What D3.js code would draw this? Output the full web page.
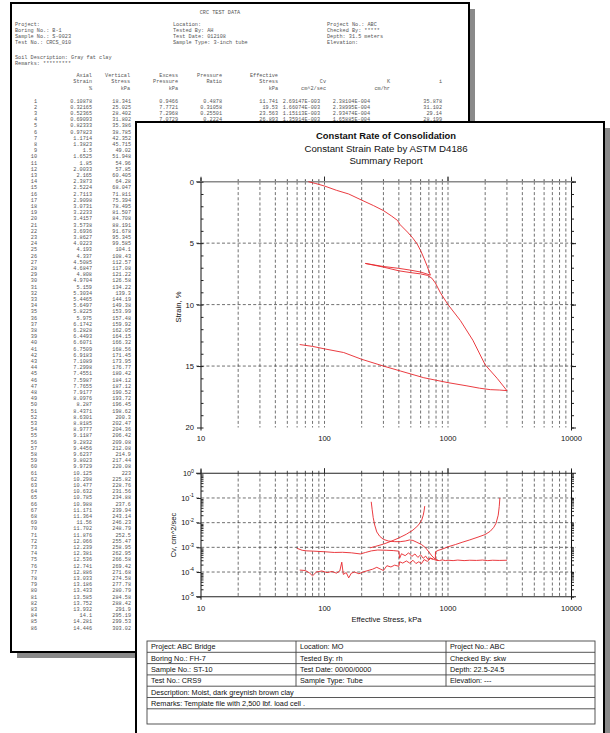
<!DOCTYPE html>
<html><head><meta charset="utf-8">
<script src="https://cdn.jsdelivr.net/npm/d3@7/dist/d3.min.js"></script>
<style>body{margin:0;background:#fff}svg{display:block}</style>
</head><body>
<svg id="c" width="610" height="733"></svg>
<script>
// ---------- back page (CRC TEST DATA) ----------
const axialStrain = ["0.10878","0.32165","0.52365","0.69093","0.82333","0.97823","1.1714","1.3823","1.5","1.6525",
"1.85","2.0033","2.165","2.3873","2.5224","2.7113","2.9098","3.0731","3.2233","3.4157",
"3.5738","3.6936","3.8627","4.0223","4.193","4.337","4.5085","4.6847","4.808","4.9704",
"5.159","5.3034","5.4465","5.6497","5.8225","5.975","6.1742","6.2828","6.4493","6.6071",
"6.7509","6.9183","7.1089","7.2998","7.4551","7.5987","7.7655","7.9177","8.0976","8.287",
"8.4371","8.6301","8.8185","8.9777","9.1187","9.2832","9.4456","9.6237","9.8023","9.9729",
"10.125","10.298","10.477","10.632","10.785","10.988","11.171","11.364","11.56","11.702",
"11.876","12.066","12.239","12.381","12.536","12.741","12.886","13.033","13.186","13.433",
"13.585","13.752","13.932","14.1","14.281","14.446"];
const verticalStress = ["18.341","25.025","28.402","31.802","35.386","38.785","42.352","45.715","49.02","51.948",
"54.96","57.85","60.405","64.28","68.047","71.811","75.394","78.495","81.507","84.708",
"88.191","91.678","95.345","99.585","104.1","108.43","112.57","117.08","121.22","126.58",
"134.22","139.3","144.19","149.38","153.99","157.48","159.92","162.05","164.15","166.32",
"168.56","171.45","173.95","176.77","180.42","184.12","187.12","190.52","193.72","196.45",
"198.62","200.3","202.47","204.36","206.42","209.08","212.08","214.9","217.44","220.08",
"223","225.82","228.76","231.56","234.88","237.6","239.94","243.14","246.23","248.79",
"252.5","255.47","258.95","262.95","266.58","269.42","271.68","274.58","277.78","280.79",
"284.58","288.42","291.9","295.19","299.53","303.02"];
const excessPressure = ["0.9466","7.7721","7.2968","7.0729"];
const pressureRatio = ["0.4878","0.31058","0.25501","0.2224"];
const effectiveStress = ["11.741","19.53","23.563","26.893"];
const cvValues = ["2.69147E-003","1.66074E-003","1.15113E-003","1.35914E-003"];
const kValues = ["2.38104E-004","2.38995E-004","2.93474E-004","1.65885E-004"];
const iValues = ["35.878","31.102","29.14","28.199"];
const backHeaderLeft = ["Project:","Boring No.: B-1","Sample No.: S-0023","Test No.: CRCS_010"];
const backHeaderMid = ["Location:","Tested By: AH","Test Date: 012108","Sample Type: 3-inch tube"];
const backHeaderRight = ["Project No.: ABC","Checked By: *****","Depth: 31.5 meters","Elevation:"];

// ---------- front page (summary report) ----------
const titleLines = ["Constant Rate of Consolidation","Constant Strain Rate by ASTM D4186","Summary Report"];
const stressTicks = [10,100,1000,10000];
const strainTicks = [0,5,10,15,20];
const cvTicks = [1,0.1,0.01,0.001,0.0001,0.00001];
const cvTickExp = ["0","-1","-2","-3","-4","-5"];
// [effective stress kPa, strain %]
const strainLoad1 = [[74,0],[85,0.15],[100,0.35],[125,0.7],[157,1.0],[200,1.5],[250,1.95],[300,2.35],[350,2.8],[390,3.15],[410,3.5],[470,4.1],[520,4.6],[561,5.05],[600,5.6],[640,6.25],[680,6.9],[720,7.6]];
const strainUnload1 = [[720,7.6],[600,7.35],[500,7.2],[400,7.05],[300,6.9],[214,6.65]];
const strainReload1 = [[214,6.65],[300,6.95],[400,7.25],[500,7.4],[600,7.5],[680,7.62],[740,7.85],[791,8.25],[869,9.05],[1000,10.0],[1260,11.3],[1590,12.9],[2000,14.9],[2500,16.0],[3000,17.0]];
const strainUnload2 = [[3000,17.0],[2600,16.95],[2200,16.92],[1800,16.8],[1400,16.6],[1000,16.35],[637,15.95],[411,15.4],[300,15.0],[200,14.45],[143,13.9],[100,13.6],[80,13.4],[63,13.25]];
// [effective stress kPa, Cv cm^2/sec]
const cvUpper = [[60,9.1e-4],[66,7.6e-4],[72,7.2e-4],[82,7.0e-4],[101,6.6e-4],[120,6.2e-4],[140,6.3e-4],[165,6.0e-4],[195,5.4e-4],[215,6.2e-4],[240,7.2e-4],[270,7.8e-4],[320,7.6e-4],[360,7.4e-4],[400,7.0e-4],[406,3.6e-4],[420,5.5e-4],[450,4.6e-4],[480,6.0e-4],[510,4.3e-4],[540,5.4e-4],[570,3.9e-4],[600,5.0e-4],[630,3.6e-4],[660,4.4e-4],[690,3.2e-4],[720,3.7e-4],[760,3.3e-4]];
const cvLower = [[63,1.2e-4],[70,1.15e-4],[76,9e-5],[80,7e-5],[86,1.0e-4],[95,1.1e-4],[105,9.5e-5],[115,1.05e-4],[125,9e-5],[133,1.1e-4],[138,2.5e-4],[142,8e-5],[150,9.5e-5],[157,5.8e-5],[165,9e-5],[175,1.0e-4],[190,8.5e-5],[205,1.0e-4],[225,1.15e-4],[245,1.3e-4],[265,1.55e-4],[285,1.3e-4],[300,1.15e-4],[320,1.8e-4],[345,1.6e-4],[370,1.9e-4],[400,1.7e-4],[406,2.6e-4],[430,2.3e-4],[460,2.8e-4],[490,2.3e-4],[520,3.0e-4],[550,2.2e-4],[580,2.6e-4],[610,2.2e-4],[640,3.2e-4],[680,2.7e-4],[720,3.5e-4],[760,3.3e-4]];
const cvTail = [[760,3.3e-4],[800,3.0e-4],[850,2.9e-4],[900,3.1e-4],[950,2.9e-4],[1000,3.0e-4],[1100,2.9e-4],[1200,3.05e-4],[1350,2.9e-4],[1500,3.0e-4],[1700,2.95e-4],[1900,3.05e-4],[2100,2.9e-4],[2300,3.0e-4],[2600,2.95e-4],[3000,3.0e-4]];
const cvUnloadA = [[239,0.07],[243,0.035],[248,0.016],[255,8e-3],[265,4.2e-3],[280,2.8e-3],[300,2.1e-3],[330,1.8e-3],[370,1.7e-3],[410,1.7e-3],[450,1.8e-3],[490,2.0e-3],[520,1.9e-3],[560,1.6e-3],[610,1.3e-3],[660,9.5e-4],[700,6.5e-4],[740,4.5e-4],[790,3.3e-4],[830,3.0e-4]];
const cvReload = [[233,9.5e-4],[260,1.1e-3],[300,1.35e-3],[350,1.8e-3],[400,2.4e-3],[460,3.4e-3],[520,5e-3],[570,7.5e-3],[610,0.012],[630,0.02],[640,0.03],[648,0.047]];
const cvUnloadB = [[790,3.4e-4],[792,6.6e-4],[830,7.5e-4],[900,8.5e-4],[1000,1.05e-3],[1150,1.3e-3],[1300,1.6e-3],[1500,2.0e-3],[1750,2.6e-3],[2000,3.3e-3],[2200,4.5e-3],[2350,6.5e-3],[2450,9.5e-3],[2550,0.02],[2600,0.045],[2630,0.1]];

const infoRows = [
  ["Project: ABC Bridge","Location: MO","Project No.: ABC"],
  ["Boring No.: FH-7","Tested By: rh","Checked By: skw"],
  ["Sample No.: ST-10","Test Date: 00/00/0000","Depth: 22.5-24.5"],
  ["Test No.: CRS9","Sample Type: Tube","Elevation: ---"]
];
const infoWide = ["Description: Moist, dark greynish brown clay","Remarks:  Template file  with 2,500 lbf. load cell .",""];

const svg = d3.select("#c");
const mono = "'Liberation Mono','DejaVu Sans Mono',monospace";
const sans = "'Liberation Sans',Arial,sans-serif";

// ===== back page =====
svg.append("rect").attr("x",17).attr("y",9).attr("width",458).attr("height",649).attr("fill","#8a8a8a");
svg.append("rect").attr("x",11).attr("y",3).attr("width",458).attr("height",649).attr("fill","#fff").attr("stroke","#000").attr("stroke-width",2);
const bg = svg.append("g").attr("font-family",mono).attr("font-size",5.2).attr("fill","#555");
bg.append("text").attr("x",220).attr("y",13.5).attr("text-anchor","middle").text("CRC TEST DATA");
const hy = [26,32,38,44];
backHeaderLeft.forEach((t,i)=>bg.append("text").attr("x",15).attr("y",hy[i]).text(t));
backHeaderMid.forEach((t,i)=>bg.append("text").attr("x",173).attr("y",hy[i]).text(t));
backHeaderRight.forEach((t,i)=>bg.append("text").attr("x",327).attr("y",hy[i]).text(t));
bg.append("text").attr("x",15).attr("y",59).text("Soil Description: Gray fat clay");
bg.append("text").attr("x",15).attr("y",65).text("Remarks: *********");
const colHdr = [
  [92,["Axial","Strain","%"]],[130,["Vertical","Stress","kPa"]],[178,["Excess","Pressure","kPa"]],
  [222,["Pressure","Ratio",""]],[278,["Effective","Stress","kPa"]],[326,["","Cv","cm^2/sec"]],
  [390,["","K","cm/hr"]],[442,["","i",""]]
];
const hly = [77,83,89.5];
colHdr.forEach(([xr,lines])=>lines.forEach((t,j)=>{ if(t) bg.append("text").attr("x",xr).attr("y",hly[j]).attr("text-anchor","end").text(t); }));
const rowY = d3.scaleLinear().domain([0,85]).range([102.5,629.5]);
axialStrain.forEach((v,i)=>{
  bg.append("text").attr("x",37).attr("y",rowY(i)).attr("text-anchor","end").text(i+1);
  bg.append("text").attr("x",92).attr("y",rowY(i)).attr("text-anchor","end").text(v);
  bg.append("text").attr("x",131).attr("y",rowY(i)).attr("text-anchor","end").text(verticalStress[i]);
});
[[178,excessPressure],[222,pressureRatio],[278,effectiveStress],[320,cvValues],[370,kValues],[442,iValues]].forEach(([xr,arr])=>{
  arr.forEach((v,i)=>bg.append("text").attr("x",xr).attr("y",rowY(i)).attr("text-anchor","end").text(v));
});

// ===== front page =====
svg.append("rect").attr("x",142).attr("y",128).attr("width",468).attr("height",700).attr("fill","#8a8a8a");
svg.append("rect").attr("x",136).attr("y",122).attr("width",468).attr("height",700).attr("fill","#fff").attr("stroke","#000").attr("stroke-width",2);

const fg = svg.append("g").attr("font-family",sans).attr("fill","#111");
fg.append("text").attr("x",386).attr("y",139.3).attr("text-anchor","middle").attr("font-size",9.4).attr("font-weight","bold").text(titleLines[0]);
fg.append("text").attr("x",386).attr("y",151.7).attr("text-anchor","middle").attr("font-size",9.7).text(titleLines[1]);
fg.append("text").attr("x",386).attr("y",163.8).attr("text-anchor","middle").attr("font-size",9.7).text(titleLines[2]);

const x = d3.scaleLog().domain([10,10000]).range([201,571.5]);
const yS = d3.scaleLinear().domain([0,20]).range([181.7,427.5]);
const yC = d3.scaleLog().domain([1e-5,1]).range([596.7,473.3]);

const minorX = [];
[10,100,1000].forEach(d=>{for(let k=2;k<=9;k++) minorX.push(d*k);});
const gridX = minorX.concat([100,1000]);
const dash = "3,2.2";
const gridColor = "#333";

function drawFrame(g, yScale, yTop, yBot, hGrid){
  g.selectAll(null).data(gridX).join("line")
    .attr("x1",d=>x(d)).attr("x2",d=>x(d)).attr("y1",yTop).attr("y2",yBot)
    .attr("stroke",gridColor).attr("stroke-width",0.7).attr("stroke-dasharray",dash);
  g.selectAll(null).data(hGrid).join("line")
    .attr("x1",196).attr("x2",576).attr("y1",d=>yScale(d)).attr("y2",d=>yScale(d))
    .attr("stroke",gridColor).attr("stroke-width",0.7).attr("stroke-dasharray",dash);
  g.selectAll(null).data(gridX.concat(stressTicks)).join("line")
    .attr("x1",d=>x(d)).attr("x2",d=>x(d)).attr("y1",yTop)
    .attr("y2",d=>stressTicks.includes(d)?yTop-5:yTop-2.5)
    .attr("stroke","#222").attr("stroke-width",0.8);
  g.append("line").attr("x1",x(10)).attr("x2",x(10)).attr("y1",yTop-4).attr("y2",yBot+3).attr("stroke","#111").attr("stroke-width",1);
  g.append("line").attr("x1",x(10000)).attr("x2",x(10000)).attr("y1",yTop-4).attr("y2",yBot+3).attr("stroke","#111").attr("stroke-width",1);
}

// ---------- strain chart ----------
const g1 = fg.append("g");
drawFrame(g1, yS, yS(0), yS(20), [5,10,15]);
g1.append("line").attr("x1",196).attr("x2",576).attr("y1",yS(0)).attr("y2",yS(0)).attr("stroke","#8a8a8a").attr("stroke-width",1.6);
const strainMinor = d3.range(0,21,1);
g1.append("g").attr("transform",`translate(${x(10)},0)`)
  .call(d3.axisLeft(yS).tickValues(strainTicks).tickSize(4).tickPadding(3).tickFormat(d3.format("d")))
  .call(s=>{s.select(".domain").remove(); s.selectAll("line").attr("stroke","#222"); s.selectAll("text").attr("font-family",sans).attr("font-size",7.6).attr("fill","#111");});
g1.append("g").attr("transform",`translate(${x(10)},0)`)
  .call(d3.axisRight(yS).tickValues(strainMinor).tickSize(2.5).tickFormat(""))
  .call(s=>{s.select(".domain").remove(); s.selectAll("line").attr("stroke","#222");});
g1.append("g").attr("transform",`translate(${x(10000)},0)`)
  .call(d3.axisRight(yS).tickValues(strainMinor).tickSize(2.5).tickFormat(""))
  .call(s=>{s.select(".domain").remove(); s.selectAll("line").attr("stroke","#222");});
g1.append("g").attr("transform",`translate(${x(10000)},0)`)
  .call(d3.axisRight(yS).tickValues(strainTicks).tickSize(4.5).tickFormat(""))
  .call(s=>{s.select(".domain").remove(); s.selectAll("line").attr("stroke","#222");});
g1.selectAll(null).data(stressTicks).join("text")
  .attr("x",d=>x(d)).attr("y",441).attr("text-anchor","middle").attr("font-size",7.6).text(d=>d);
g1.append("text").attr("transform",`translate(180.5,307) rotate(-90)`).attr("text-anchor","middle").attr("font-size",7.6).text("Strain, %");

const lineS = d3.line().x(d=>x(d[0])).y(d=>yS(d[1]));
[strainLoad1,strainUnload1,strainReload1,strainUnload2].forEach(s=>{
  g1.append("path").attr("d",lineS(s)).attr("fill","none").attr("stroke","#e8262b").attr("stroke-width",0.9);
});

// ---------- Cv chart ----------
const g2 = fg.append("g");
drawFrame(g2, yC, yC(1), yC(1e-5), [0.1,0.01,0.001,0.0001]);
g2.append("line").attr("x1",196).attr("x2",576).attr("y1",yC(1)).attr("y2",yC(1)).attr("stroke","#222").attr("stroke-width",1.1);
g2.append("line").attr("x1",196).attr("x2",576).attr("y1",yC(1e-5)).attr("y2",yC(1e-5)).attr("stroke","#222").attr("stroke-width",1.1);
const cvMinor = [];
[1e-5,1e-4,1e-3,1e-2,1e-1].forEach(d=>{for(let k=2;k<=9;k++) cvMinor.push(d*k);});
g2.append("g").attr("transform",`translate(${x(10)},0)`)
  .call(d3.axisLeft(yC).tickValues(cvTicks).tickSize(4).tickFormat(""))
  .call(s=>{s.select(".domain").remove(); s.selectAll("line").attr("stroke","#222");});
g2.append("g").attr("transform",`translate(${x(10)},0)`)
  .call(d3.axisRight(yC).tickValues(cvMinor).tickSize(2.5).tickFormat(""))
  .call(s=>{s.select(".domain").remove(); s.selectAll("line").attr("stroke","#222");});
g2.append("g").attr("transform",`translate(${x(10000)},0)`)
  .call(d3.axisRight(yC).tickValues(cvMinor.concat(cvTicks)).tickSize(2.5).tickFormat(""))
  .call(s=>{s.select(".domain").remove(); s.selectAll("line").attr("stroke","#222");});
cvTicks.forEach((v,i)=>{
  const t = g2.append("text").attr("x",194).attr("y",yC(v)+2.8).attr("text-anchor","end").attr("font-size",7.4);
  t.append("tspan").text("10");
  t.append("tspan").attr("dy",-3.6).attr("font-size",5.2).text(cvTickExp[i]);
});
g2.selectAll(null).data(stressTicks).join("text")
  .attr("x",d=>x(d)).attr("y",610.5).attr("text-anchor","middle").attr("font-size",7.6).text(d=>d);
g2.append("text").attr("x",386.5).attr("y",621.5).attr("text-anchor","middle").attr("font-size",7.6).text("Effective Stress, kPa");
g2.append("text").attr("transform",`translate(176,535) rotate(-90)`).attr("text-anchor","middle").attr("font-size",7.6).text("Cv, cm^2/sec");

const lineC = d3.line().x(d=>x(d[0])).y(d=>yC(d[1]));
[cvUpper,cvLower,cvTail,cvUnloadA,cvReload,cvUnloadB].forEach(s=>{
  g2.append("path").attr("d",lineC(s)).attr("fill","none").attr("stroke","#e8262b").attr("stroke-width",0.9);
});

// ---------- info table ----------
const tg = fg.append("g");
const tx0 = 147, tx1 = 595, colSep = [296, 446];
const rowTops = [641,652.3,663.6,674.9,686.2,697.5,708.8,724];
tg.append("rect").attr("x",tx0).attr("y",rowTops[0]).attr("width",tx1-tx0).attr("height",rowTops[7]-rowTops[0]).attr("fill","none").attr("stroke","#444").attr("stroke-width",0.9);
rowTops.slice(1,7).forEach(y=>tg.append("line").attr("x1",tx0).attr("x2",tx1).attr("y1",y).attr("y2",y).attr("stroke","#444").attr("stroke-width",0.9));
colSep.forEach(cx=>tg.append("line").attr("x1",cx).attr("x2",cx).attr("y1",rowTops[0]).attr("y2",rowTops[4]).attr("stroke","#444").attr("stroke-width",0.9));
const colX = [151, 300, 450];
infoRows.forEach((r,i)=>r.forEach((t,j)=>tg.append("text").attr("x",colX[j]).attr("y",rowTops[i]+8.3).attr("font-size",7.3).text(t)));
infoWide.forEach((t,i)=>{ if(t) tg.append("text").attr("x",151).attr("y",rowTops[4+i]+8.3).attr("font-size",7.3).text(t); });
</script>
</body></html>
